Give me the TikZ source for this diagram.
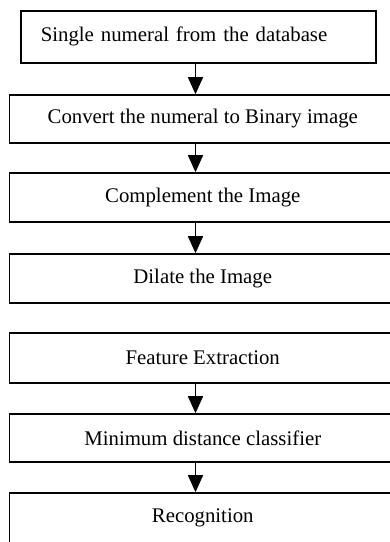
\documentclass[tikz,border=0pt]{standalone}
\usepackage{fontspec}
\setmainfont{Liberation Serif}
\usetikzlibrary{arrows.meta}
\begin{document}
\begin{tikzpicture}[x=1pt,y=-1pt,
  stepbox/.style={draw=black,line width=1.6pt,rectangle,minimum width=386.5pt,inner sep=0pt,
    font=\fontsize{20.8}{24}\selectfont},
  flow/.style={line width=1.6pt,-{Triangle[width=15pt,length=17pt]}}]
\clip (0,0) rectangle (390,542);
\node[stepbox,anchor=north west,minimum height=52pt,text width=315pt,align=left,inner xsep=20pt,minimum width=0pt] (b1) at (20,10) {Single numeral from the database};
\node[stepbox,minimum height=48pt] (b2) at (202.75,119) {Convert the numeral to Binary image};
\node[stepbox,minimum height=49pt] (b3) at (202.75,197.5) {Complement the Image};
\node[stepbox,minimum height=49pt] (b4) at (202.75,278.5) {Dilate the Image};
\node[stepbox,minimum height=50pt] (b5) at (202.75,358) {Feature Extraction};
\node[stepbox,minimum height=48pt] (b6) at (202.75,438) {Minimum distance classifier};
\node[stepbox,minimum height=50pt] (b7) at (202.75,518) {Recognition};
\coordinate (ax) at (195.5,0);
\draw[flow] (b1.south -| ax) -- (b2.north -| ax);
\draw[flow] (b2.south -| ax) -- (b3.north -| ax);
\draw[flow] (b3.south -| ax) -- (b4.north -| ax);
\draw[flow] (b5.south -| ax) -- (b6.north -| ax);
\draw[flow] (b6.south -| ax) -- (b7.north -| ax);
\end{tikzpicture}
\end{document}
